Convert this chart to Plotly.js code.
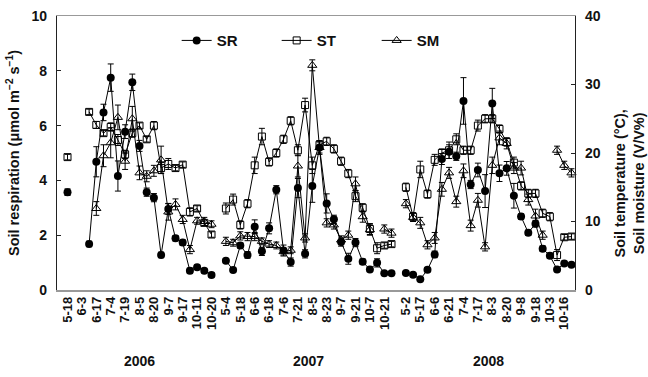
<!DOCTYPE html>
<html><head><meta charset="utf-8">
<script src="https://cdn.plot.ly/plotly-3.0.1.min.js"></script>
<style>html,body{margin:0;padding:0;background:#fff}#chart{width:648px;height:377px}</style>
</head><body><div id="chart"></div>
<script>
// Sampling-date labels (every second sampling slot) for each year
const labels2006 = ['5-18','6-3','6-17','7-4','7-19','8-5','8-20','9-7','9-17','10-11','10-20'];
const labels2007 = ['5-4','5-18','6-6','6-18','7-6','7-21','8-5','8-23','9-7','9-21','10-7','10-21'];
const labels2008 = ['5-2','5-17','6-6','6-21','7-4','7-17','8-3','8-20','9-8','9-18','10-3','10-16'];
const years = ['2006','2007','2008'];
const yearStart = [0, 22, 47];   // first sampling slot of each year

// Soil respiration (umol m-2 s-1)
const sr2006 = [3.57,null,null,1.68,4.68,6.48,7.75,4.16,5.78,7.58,5.26,3.57,3.37,1.28,2.96,1.89,1.73,0.70,0.83,0.70,0.55];
const sr2007 = [1.07,0.73,1.62,1.28,2.31,1.41,2.25,3.66,1.44,1.02,3.72,1.32,3.80,5.20,3.16,2.58,1.75,1.14,1.73,1.03,0.75,0.99,0.61,0.61];
const sr2008 = [0.62,0.56,0.39,0.74,1.30,4.78,5.05,4.88,6.90,3.85,4.38,3.61,6.81,4.26,4.44,3.44,2.68,2.09,2.42,1.51,1.25,0.75,0.97,0.92];
const srErr2006 = [0.12,null,null,0.1,0.55,0.3,0.5,0.55,0.25,0.3,0.2,0.15,0.15,0.1,0.2,0.1,0.1,0.1,0.08,0.08,0.08];
const srErr2007 = [0.08,0.08,0.1,0.12,0.25,0.15,0.2,0.15,0.2,0.15,0.35,0.15,0.6,0.2,0.35,0.15,0.15,0.2,0.15,0.1,0.08,0.15,0.05,0.05];
const srErr2008 = [0.05,0.05,0.05,0.08,0.12,0.2,0.25,0.15,0.85,0.15,0.25,0.6,0.55,0.3,0.25,0.45,0.1,0.1,0.12,0.1,0.1,0.08,0.08,0.05];

// Soil temperature (deg C)
const st2006 = [19.4,null,null,26.0,24.1,22.9,23.8,21.9,19.8,22.9,24.0,22.0,24.0,17.8,18.4,17.8,18.3,11.4,11.9,9.8,8.1];
const st2007 = [11.9,13.2,9.5,12.6,18.2,22.4,18.7,20.0,22.0,24.7,20.4,27.0,18.2,21.2,21.7,20.6,18.8,17.0,13.7,12.0,8.9,6.1,6.5,6.7];
const st2008 = [15.0,10.7,17.6,14.0,19.0,20.0,20.4,22.0,20.4,20.4,24.0,25.0,25.0,23.5,21.6,18.6,15.2,14.1,14.1,11.2,10.7,5.1,7.7,7.8];
const stErr2006 = [0.4,null,null,0.4,0.5,0.4,0.6,0.8,0.6,0.6,0.4,0.4,0.6,0.8,0.8,0.4,0.4,0.6,0.4,0.4,0.4];
const stErr2007 = [0.8,0.8,0.6,0.6,1.2,1.2,0.6,0.6,0.6,0.6,0.8,1.0,1.2,0.6,0.6,0.6,0.6,0.6,0.8,0.6,0.8,0.8,0.4,0.4];
const stErr2008 = [0.6,0.6,1.2,0.6,0.8,0.6,1.2,0.8,0.6,0.6,0.8,0.6,0.6,0.6,0.6,0.8,0.6,0.6,0.6,0.6,0.6,0.8,0.4,0.4];

// Soil moisture (V/V %)
const sm2006 = [null,null,null,null,11.9,19.6,21.5,25.2,18.8,25.0,17.1,16.6,17.4,19.0,11.4,12.5,10.3,5.9,10.1,10.0,9.6];
const sm2007 = [7.1,6.9,7.9,7.8,7.8,7.1,6.7,6.5,5.6,5.8,18.1,7.6,32.8,20.8,9.8,9.5,7.3,8.0,15.5,10.7,8.8,null,8.9,8.3];
const sm2008 = [12.6,10.6,9.8,6.6,7.6,14.7,17.1,12.9,17.4,9.4,13.1,6.3,18.2,22.2,21.4,17.8,17.8,13.2,10.8,8.0,null,20.4,18.2,17.1];
const smErr2006 = [null,null,null,null,1.0,1.6,2.2,1.8,1.2,1.8,1.0,0.8,0.8,2.0,1.2,0.8,0.6,0.6,0.5,0.6,0.5];
const smErr2007 = [0.6,0.5,0.6,0.6,0.6,0.5,0.5,0.5,0.5,0.5,1.6,0.6,0.8,1.0,0.6,0.6,0.6,0.6,1.0,0.8,0.8,null,0.6,0.6];
const smErr2008 = [0.6,0.6,0.8,0.6,0.8,1.0,0.8,0.8,1.0,0.8,1.0,0.6,1.2,1.0,0.8,0.8,1.0,0.8,1.0,0.6,null,0.6,0.6,0.6];

function join(parts) {
  const x = [], y = [];
  parts.forEach((arr, k) => {
    if (k > 0) { x.push(yearStart[k] - 1); y.push(null); }
    arr.forEach((v, i) => { x.push(yearStart[k] + i); y.push(v); });
  });
  return {x, y};
}
const FONT = 'Liberation Sans, Arial, sans-serif';
function series(name, vals, errs, axis, marker) {
  const d = join(vals), e = join(errs);
  return {
    type: 'scatter', mode: 'lines+markers', name: name, x: d.x, y: d.y, yaxis: axis,
    connectgaps: false,
    line: {color: '#000', width: 1},
    marker: marker,
    error_y: {type: 'data', array: e.y, visible: true, color: '#000', thickness: 1, width: 3},
    cliponaxis: false
  };
}
const traces = [
  series('SR', [sr2006, sr2007, sr2008], [srErr2006, srErr2007, srErr2008], 'y',
    {symbol: 'circle', size: 8, color: '#000', line: {color: '#000', width: 0}}),
  series('ST', [st2006, st2007, st2008], [stErr2006, stErr2007, stErr2008], 'y2',
    {symbol: 'square-open', size: 7, color: '#000', line: {color: '#000', width: 1}}),
  series('SM', [sm2006, sm2007, sm2008], [smErr2006, smErr2007, smErr2008], 'y2',
    {symbol: 'triangle-up-open', size: 8, color: '#000', line: {color: '#000', width: 1}})
];

const tickvals = [], ticktext = [];
[labels2006, labels2007, labels2008].forEach((labs, k) => {
  labs.forEach((t, j) => { tickvals.push(yearStart[k] + 2 * j); ticktext.push(t); });
});
const yearLen = [sr2006.length, sr2007.length, sr2008.length];
const annotations = years.map((yr, k) => ({
  text: '<b>' + yr + '</b>', x: yearStart[k] + (yearLen[k] - 1) / 2, xref: 'x',
  y: -0.295, yref: 'paper', showarrow: false, font: {family: FONT, size: 14, color: '#111'}
}));
annotations.push({
  text: '<b>Soil temperature (°C),<br>Soil moisture (V/V%)</b>', textangle: -90,
  xref: 'paper', x: 1.105, xanchor: 'center', yref: 'paper', y: 0.39, yanchor: 'middle',
  showarrow: false, font: {family: FONT, size: 14.5, color: '#111'}
});

const layout = {
  width: 648, height: 377,
  margin: {l: 57, r: 73, t: 16, b: 87},
  paper_bgcolor: '#fff', plot_bgcolor: '#fff',
  font: {family: FONT, color: '#111'},
  showlegend: true,
  legend: {orientation: 'h', x: 0.231, xanchor: 'left', y: 0.91, yanchor: 'middle',
    font: {family: FONT, size: 15, color: '#111', weight: 'bold'},
    entrywidth: 55, entrywidthmode: 'pixels', bgcolor: 'rgba(0,0,0,0)', traceorder: 'normal'},
  xaxis: {range: [-1.46, 70.49], showgrid: false, zeroline: false,
    showline: true, mirror: true, linecolor: '#999', linewidth: 1.5,
    tickmode: 'array', tickvals: tickvals, ticktext: ticktext, tickangle: -90,
    ticks: '', tickfont: {family: FONT, size: 13, color: '#111', weight: 'bold'}},
  yaxis: {range: [0, 10], showgrid: false, zeroline: false, showline: true, linecolor: '#222', linewidth: 1.2,
    ticks: 'inside', ticklen: 4, tickcolor: '#222', dtick: 2, ticklabelstandoff: 6,
    tickfont: {family: FONT, size: 14, color: '#111', weight: 'bold'},
    title: {text: 'Soil respiration (μmol m<sup>−2</sup> s<sup>−1</sup>)', font: {family: FONT, size: 14.5, color: '#111', weight: 'bold'}, standoff: 8}},
  yaxis2: {range: [0, 40], overlaying: 'y', side: 'right', showgrid: false, zeroline: false,
    showline: true, linecolor: '#222', linewidth: 1.2, ticks: 'inside', ticklen: 4, tickcolor: '#222', dtick: 10,
    ticklabelstandoff: 6,
    tickfont: {family: FONT, size: 14, color: '#111', weight: 'bold'}},
  annotations: annotations
};
Plotly.newPlot('chart', traces, layout, {displayModeBar: false, staticPlot: true});
</script></body></html>
